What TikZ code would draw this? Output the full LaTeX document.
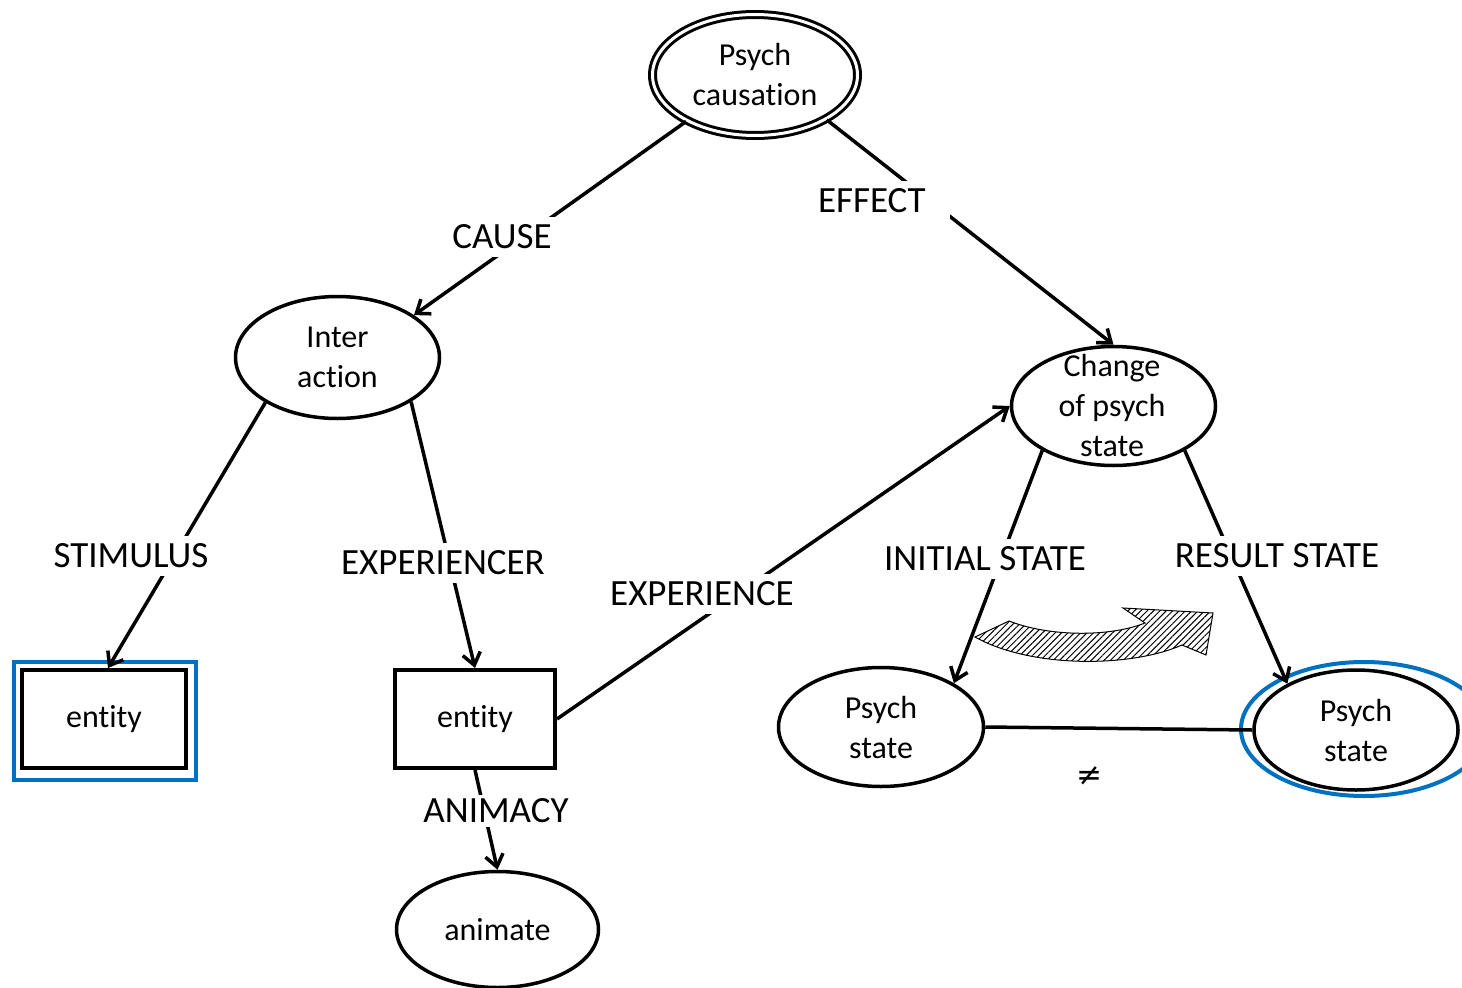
\documentclass[tikz,border=0pt]{standalone}
\usepackage{fontspec}
\setmainfont{Carlito}[Ligatures=NoCommon]
\newfontfamily\symfnt{DejaVu Sans}
\usetikzlibrary{shapes.geometric,arrows.meta,patterns.meta}
\definecolor{selblue}{RGB}{0,112,192}
\newcommand\ndfont{\fontsize{32}{40}\selectfont}
\newcommand\lbfont{\fontsize{37}{42}\selectfont}
\newcommand\nl{\kern0pt }
\begin{document}
\begin{tikzpicture}[x=1pt,y=-1pt,
  ell/.style={draw,ellipse,line width=3.5pt,inner sep=0pt,align=center,font=\ndfont},
  boxnode/.style={draw,rectangle,line width=4pt,inner sep=0pt,font=\ndfont},
  txt/.style={align=center,font=\ndfont},
  lab/.style={fill=white,font=\lbfont,inner xsep=6pt,inner ysep=8pt},
  edge/.style={line width=3.5pt},
  arr/.style={edge,-{Straight Barb[length=12pt,width=18pt]}},
  sel/.style={draw=selblue,line width=4pt,inner sep=0pt},
]
\useasboundingbox[fill=white] (0,0) rectangle (1462,988);

% nodes
\node[ell,double,double distance=3pt,line width=3pt,minimum width=205pt,minimum height=121pt] (pc) at (755,75) {Psych\\causat\nl ion};
\node[ell,minimum width=204pt,minimum height=122pt] (ia) at (337.5,357.5) {Inter\\act\nl ion};
\node[ell,minimum width=204pt,minimum height=119pt] (chg) at (1113.5,406) {};
\node[txt,inner sep=0pt] (chgt) at (1112,406) {Change\\of psych\\state};
\node[boxnode,minimum width=164pt,minimum height=98pt] (e1) at (104,719) {ent\nl ity};
\node[sel,minimum width=182pt,minimum height=118pt] (e1sel) at ([xshift=1pt,yshift=-2pt]e1.center) {};
\node[boxnode,minimum width=160pt,minimum height=98pt] (e2) at (475,719) {ent\nl ity};
\node[ell,minimum width=202pt,minimum height=116pt] (an) at (497.5,929.5) {animate};
\node[ell,minimum width=205pt,minimum height=119pt] (ps1) at (881,727) {Psych\\state};
\node[ell,minimum width=204pt,minimum height=120pt] (ps2) at (1356,730) {Psych\\state};
\node[sel,ellipse,minimum width=246pt,minimum height=134pt] (ps2sel) at (1364,729) {};

% connectors
\draw[arr] (pc.214) -- (ia.29);
\draw[arr] (pc.328) -- (chg.north);
\draw[arr] (ia.212) -- ([xshift=4pt]e1.north);
\draw[arr] (ia.329) -- (e2.north);
\draw[arr] (e2.east) -- (chg.west);
\draw[arr] (chg.212) -- (ps1.31);
\draw[arr] (chg.328) -- (ps2.146);
\draw[arr] (e2.south) -- (an.north);
\draw[edge] (ps1.east) -- (ps2.west);

% labels
\node[lab] (lcause) at (502,237) {CAUSE};
\node[lab,text width=124pt,align=left,inner xsep=8pt] (leffect) at (880,201) {EFFECT};
\node[lab] (lstim) at (131,556) {STIMULUS};
\node[lab] (lexpr) at (443,563) {EXPERIENCER};
\node[lab] (lexpc) at (702,594) {EXPERIENCE};
\node[lab] (linit) at (985,559) {INITIAL STATE};
\node[lab] (lres) at (1277,556) {RESULT STATE};
\node[lab,inner ysep=4pt] (lanim) at (496,811) {ANIMACY};
\node[inner sep=0pt] (lneq) at (1089,776) {\symfnt\fontsize{31}{36}\selectfont ≠};

% hatched curved arrow
\draw[line width=1pt,pattern={Lines[angle=45,distance=4.5pt,line width=1pt]}]
  (975,637) -- (1009,621)
  .. controls (1050,637) and (1110,637) .. (1145,623)
  -- (1123,608) -- (1213,613) -- (1206,655) -- (1182,645)
  .. controls (1130,668) and (1030,668) .. cycle;
\end{tikzpicture}
\end{document}
